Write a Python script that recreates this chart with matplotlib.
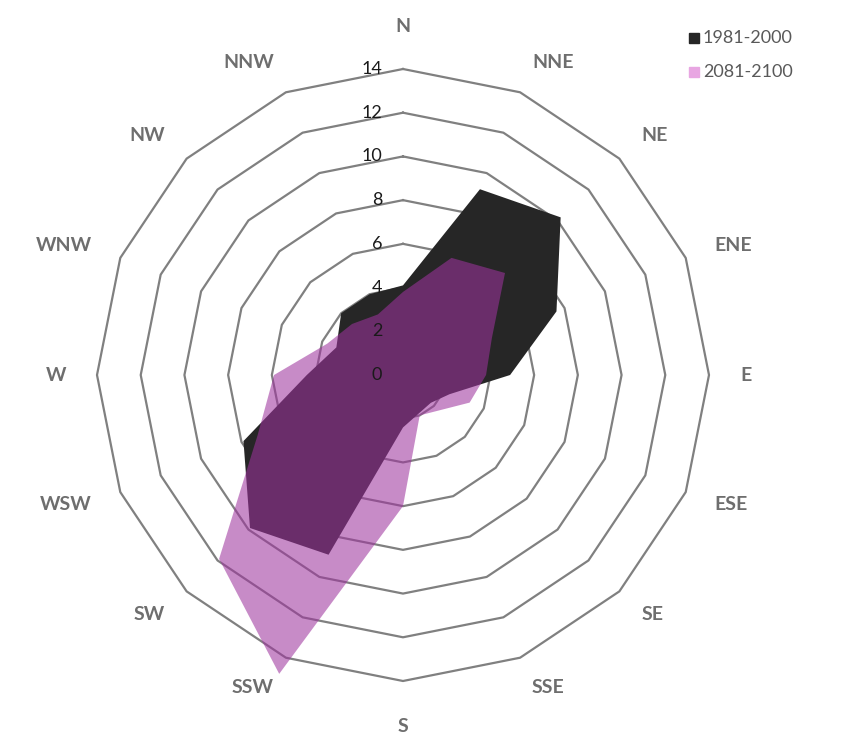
import numpy as np
import matplotlib
matplotlib.use("Agg")
import matplotlib.pyplot as plt

# Wind directions, clockwise from north
directions = ["N", "NNE", "NE", "ENE", "E", "ESE", "SE", "SSE",
              "S", "SSW", "SW", "WSW", "W", "WNW", "NW", "NNW"]

# Frequency per direction
past = [4.1, 9.2, 10.2, 7.6, 4.9, 2.3, 1.8, 1.9,
        2.4, 8.9, 9.9, 7.9, 4.4, 3.3, 4.0, 4.0]
future = [3.8, 5.8, 6.6, 4.4, 3.8, 3.3, 2.3, 2.0,
          6.0, 14.8, 11.9, 7.2, 5.9, 3.75, 3.3, 3.0]

series_names = ["1981-2000", "2081-2100"]
ring_values = [0, 2, 4, 6, 8, 10, 12, 14]

plt.rcParams['font.family'] = ['Lato', 'DejaVu Sans']

W, H = 851, 742
fig = plt.figure(figsize=(W / 100, H / 100), dpi=100)

# centre at (403, 375) px, value 14 -> 306 px
cx, cy = 403, 375
rmax = 15.2
rad_px = 306 * rmax / 14
ax = fig.add_axes([(cx - rad_px) / W, (H - cy - rad_px) / H,
                   2 * rad_px / W, 2 * rad_px / H], projection='polar')
ax.set_theta_zero_location('N')
ax.set_theta_direction(-1)
ax.set_ylim(0, rmax)
ax.grid(False)
ax.set_xticks([])
ax.set_yticks([])
ax.spines['polar'].set_visible(False)
ax.patch.set_alpha(0)

n = len(directions)
theta = np.arange(n) * 2 * np.pi / n
theta_c = np.append(theta, theta[0])

# polygon gridlines
for v in ring_values[1:]:
    ax.plot(theta_c, [v] * (n + 1), color='#808080', lw=1.6, zorder=1)

# series
ax.fill(theta_c, past + past[:1], color='#262626', lw=0, zorder=2)
ax.fill(theta_c, future + future[:1], color='#9e349e', alpha=0.57, lw=0, zorder=3)

# value labels along the north spoke
for v in ring_values:
    ax.annotate(str(v), xy=(0, v), xytext=(-15, 0), textcoords='offset points',
                ha='right', va='center', fontsize=13, color='#1a1a1a', zorder=5)

# direction labels: near edge at a fixed horizontal distance, centred vertically
for t, d in zip(theta, directions):
    s, c = np.sin(t), np.cos(t)
    if abs(s) < 0.1:
        ha, va, off = 'center', ('baseline' if c > 0 else 'top'), (0, 343 * np.sign(c))
    else:
        ha = 'left' if s > 0 else 'right'
        va, off = 'center', (337 * s, 338 * c)
    ax.annotate(d, xy=(t, 0), xytext=off,
                textcoords='offset pixels', ha=ha, va=va, fontsize=14,
                fontweight='bold', color='#6e6e6e', annotation_clip=False)

# legend
lx, ly = 689 / W, 1 - 38 / H
for i, (name, col) in enumerate(zip(series_names, ['#262626', '#e8a6e2'])):
    y = ly - i * 34 / H
    fig.patches.append(plt.Rectangle((lx, y - 5 / H), 10 / W, 10 / H,
                                     transform=fig.transFigure, color=col))
    fig.text(lx + 14 / W, y, name, ha='left', va='center', fontsize=13,
             color='#595959')

fig.savefig("out.png", dpi=100)
